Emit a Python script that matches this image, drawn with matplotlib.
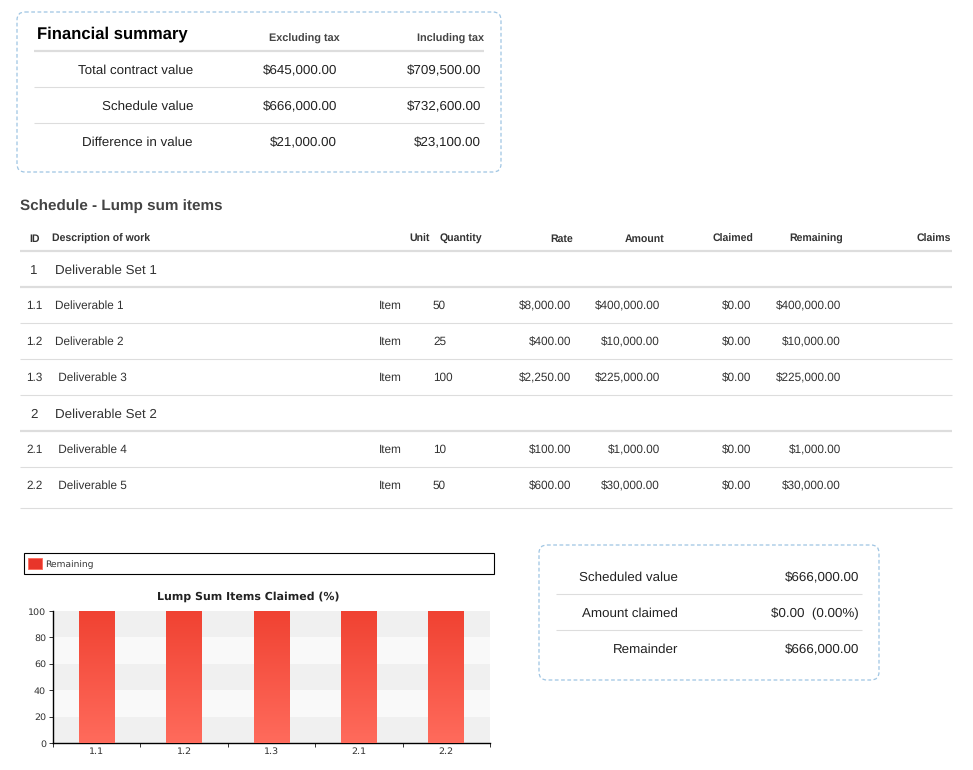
import numpy as np
import matplotlib
matplotlib.use("Agg")
import matplotlib.pyplot as plt
from matplotlib.patches import FancyBboxPatch, Rectangle
from matplotlib.colors import LinearSegmentedColormap

plt.rcParams["text.hinting"] = "no_hinting"

# ---- data ----
summary_labels = ["Total contract value", "Schedule value", "Difference in value"]
excl_tax = [645000.00, 666000.00, 21000.00]
incl_tax = [709500.00, 732600.00, 23100.00]

group_ids = ["1", "2"]
group_names = ["Deliverable Set 1", "Deliverable Set 2"]

item_ids = ["1.1", "1.2", "1.3", "2.1", "2.2"]
item_desc = ["Deliverable 1", "Deliverable 2", " Deliverable 3", " Deliverable 4", " Deliverable 5"]
item_group = [0, 0, 0, 1, 1]
item_unit = ["Item", "Item", "Item", "Item", "Item"]
item_qty = [50, 25, 100, 10, 50]
item_rate = [8000.00, 400.00, 2250.00, 100.00, 600.00]
item_amount = [400000.00, 10000.00, 225000.00, 1000.00, 30000.00]
item_claimed = [0.00, 0.00, 0.00, 0.00, 0.00]
item_remaining = [400000.00, 10000.00, 225000.00, 1000.00, 30000.00]

chart_title = "Lump Sum Items Claimed (%)"
chart_series = "Remaining"
remaining_pct = [100, 100, 100, 100, 100]

scheduled_value = 666000.00
amount_claimed = 0.00
claimed_pct = 0.00
remainder = 666000.00


def money(v):
    return "${:,.2f}".format(v)


HTML_FONT = "Liberation Sans"
TXT = "#222222"
TBL = "#333333"
RULE = "#dddddd"
BOX = "#9fc5e3"

fig = plt.figure(figsize=(9.73, 7.70), dpi=100)
ax = fig.add_axes([0, 0, 1, 1])
ax.set_xlim(0, 973)
ax.set_ylim(770, 0)
ax.axis("off")


def txt(x, y, s, size=10, ha="left", weight="normal", color=TXT, family=HTML_FONT):
    # y is the middle of the capitals; put the baseline on a whole pixel
    yb = round(y + 0.5 * size)
    ax.text(x, yb, s, fontsize=size, ha=ha, va="baseline", fontweight=weight,
            color=color, family=family)


def hline(y, x0, x1, lw=1.0, color=RULE):
    ax.plot([x0, x1], [y, y], color=color, lw=lw, solid_capstyle="butt")


def dashed_box(x0, y0, x1, y1):
    ax.add_patch(FancyBboxPatch((x0, y0), x1 - x0, y1 - y0,
                                boxstyle="round,pad=0,rounding_size=8",
                                fill=False, edgecolor=BOX, lw=0.9,
                                linestyle=(0, (3, 2))))


# ---- financial summary box ----
dashed_box(17, 12, 501, 172)
txt(37, 32, "Financial summary", size=12, weight="bold", color="#000000")
txt(340, 38.5, "Excluding tax", size=7.8, ha="right", weight="bold", color="#444444")
txt(484, 38.5, "Including tax", size=7.8, ha="right", weight="bold", color="#444444")
hline(51, 34, 484, lw=1.6)
for i, lab in enumerate(summary_labels):
    y = 69.5 + 36 * i
    txt(193, y, lab, size=9.6, ha="right")
    txt(337, y, money(excl_tax[i]), size=9.6, ha="right")
    txt(481, y, money(incl_tax[i]), size=9.6, ha="right")
    if i < len(summary_labels) - 1:
        hline(y + 17.5, 34, 484, lw=0.8)

# ---- schedule table ----
txt(20, 204.5, "Schedule - Lump sum items", size=11, weight="bold", color="#444444")
hy = 238.5
txt(29, hy, "ID", size=7.6, weight="bold", color=TBL)
txt(52, hy, "Description of work", size=7.6, weight="bold", color=TBL)
txt(430, hy, "Unit", size=7.6, ha="right", weight="bold", color=TBL)
txt(440, hy, "Quantity", size=7.6, weight="bold", color=TBL)
for x, h in [(573, "Rate"), (664, "Amount"), (753, "Claimed"),
             (843, "Remaining"), (951, "Claims")]:
    txt(x, hy, h, size=7.6, ha="right", weight="bold", color=TBL)
hline(251, 20, 952, lw=1.6)

y = 251
last = len(item_ids) - 1
for g in range(len(group_ids)):
    gy = y + 18.5
    txt(34, gy, group_ids[g], size=9.6, ha="center", color=TBL)
    txt(55, gy, group_names[g], size=9.6, color=TBL)
    y = y + 36
    hline(y, 20, 952, lw=1.6)
    for k in range(len(item_ids)):
        if item_group[k] != g:
            continue
        ry = y + 17.5
        txt(26, ry, item_ids[k], size=8.5, color=TBL)
        txt(55, ry, item_desc[k], size=8.5, color=TBL)
        txt(379, ry, item_unit[k], size=8.5, color=TBL)
        txt(433, ry, str(item_qty[k]), size=8.5, color=TBL)
        txt(571, ry, money(item_rate[k]), size=8.5, ha="right", color=TBL)
        txt(660, ry, money(item_amount[k]), size=8.5, ha="right", color=TBL)
        txt(751, ry, money(item_claimed[k]), size=8.5, ha="right", color=TBL)
        txt(841, ry, money(item_remaining[k]), size=8.5, ha="right", color=TBL)
        y = y + 36
        if k != last:
            hline(y, 20, 952, lw=0.8)
hline(508, 20, 952, lw=0.8)

# ---- right summary box ----
dashed_box(539, 545, 879, 680)
rows = [("Scheduled value", money(scheduled_value)),
        ("Amount claimed", "{}  ({:.2f}%)".format(money(amount_claimed), claimed_pct)),
        ("Remainder", money(remainder))]
for i, (lab, val) in enumerate(rows):
    ry = 576.5 + 36 * i
    txt(678, ry, lab, size=9.6, ha="right")
    txt(859, ry, val, size=9.6, ha="right")
    if i < len(rows) - 1:
        hline(ry + 17, 556, 862, lw=0.8)

# ---- chart legend ----
ax.add_patch(Rectangle((24, 553), 470, 21, fill=False, edgecolor="#000000", lw=0.8))
ax.add_patch(Rectangle((28, 558), 14, 11, facecolor="#e8352a", edgecolor="#ff6a5a", lw=0.6))
txt(45, 563.5, chart_series, size=6.6, color="#333333", family="DejaVu Sans")
txt(248, 596, chart_title, size=7.9, ha="center", weight="bold", color="#222222",
    family="DejaVu Sans")

# ---- bar chart ----
W, H = 973.0, 770.0
cax = fig.add_axes([53 / W, (H - 743) / H, 437 / W, 132 / H])
n = len(item_ids)
for b in range(5):
    cax.axhspan(b * 20, b * 20 + 20, color="#f0f0f0" if b % 2 == 0 else "#f9f9f9",
                lw=0, zorder=0)
pos = np.arange(n) + 0.5
bars = cax.bar(pos, remaining_pct, width=0.41, color="#f45a48", edgecolor="none", zorder=2)
cmap = LinearSegmentedColormap.from_list("red", ["#ff6b5c", "#f04232"])
grad = np.linspace(0, 1, 256).reshape(-1, 1)
for bar in bars:
    x0, w, h = bar.get_x(), bar.get_width(), bar.get_height()
    im = cax.imshow(grad, cmap=cmap, origin="lower", aspect="auto",
                    extent=(x0, x0 + w, 0, h), zorder=3)
    im.set_clip_path(bar)
cax.set_xlim(0, n)
cax.set_ylim(0, 100)

for s in ["top", "right"]:
    cax.spines[s].set_visible(False)
cax.spines["left"].set_linewidth(1.0)
cax.spines["bottom"].set_linewidth(1.0)
cax.set_yticks(np.arange(0, 101, 20))
cax.tick_params(axis="y", length=3, width=0.7, labelsize=6.8, pad=2, colors="#333333")
cax.set_xticks(np.arange(0, n + 1))
cax.set_xticklabels([])
cax.set_xticks(pos, minor=True)
cax.set_xticklabels(item_ids, minor=True)
cax.tick_params(axis="x", which="major", length=3, width=0.7, direction="out", color="#333333")
cax.tick_params(axis="x", which="minor", length=0, labelsize=6.8, pad=3, colors="#333333")
for lab in cax.get_xticklabels(minor=True) + cax.get_yticklabels():
    lab.set_family("DejaVu Sans")

fig.savefig("out.png", dpi=100)
